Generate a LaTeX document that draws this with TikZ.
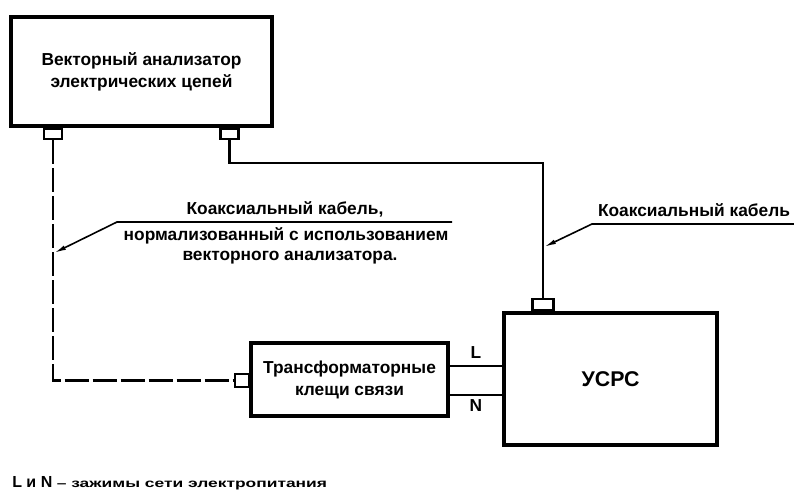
\documentclass[tikz,border=0pt]{standalone}
\usepackage{fontspec}
\setmainfont{Liberation Sans}
\usetikzlibrary{positioning,arrows.meta}

\tikzset{
  blok/.style={draw,line width=3pt,inner sep=0pt,align=center,font=\bfseries\fontsize{13}{16.5}\selectfont},
  port/.style={draw,line width=1.6pt,fill=white,inner sep=0pt},
  kabel/.style={line width=1.6pt},
  shtrih/.style={kabel,dash pattern=on 18pt off 3pt},
  vynoska/.style={line width=1.2pt,-{Latex[length=9pt,width=3.5pt]}},
  tekst/.style={font=\bfseries\fontsize{13}{14}\selectfont,inner sep=0pt,text height=9pt,text depth=2pt}
}

\begin{document}
\begin{tikzpicture}[x=0.75pt,y=-0.75pt]
    \useasboundingbox (0,0) rectangle (794,492);
    % blocks
    \node[blok,minimum width=195.75pt,minimum height=81.75pt] (vna) at (141.5,71.5) {Векторный анализатор\\электрических цепей};
    \node[blok,minimum width=148pt,minimum height=55pt] (klesh) at (349.5,379.5) {Трансформаторные\\клещи связи};
    \node[blok,minimum width=160pt,minimum height=99pt,font=\bfseries\fontsize{16}{18}\selectfont] (usrs) at (610.5,379) {УСРС};
    % connectors
    \node[port,minimum width=13.5pt,minimum height=7.5pt] (vnaA) at (53,134) {};
    \node[port,minimum width=13.5pt,minimum height=7.5pt] (vnaB) at (229.5,134) {};
    \node[port,minimum width=15.75pt,minimum height=8.25pt] (usrsP) at (543,304.5) {};
    \node[port,minimum width=10pt,minimum height=10pt] (kleshP) at (242,380.5) {};
    % cables
    \draw[shtrih] (vnaA.south) |- (kleshP.west);
    \draw[kabel] (vnaB.south) -- ++(0,23) -| (usrsP.north);
    \foreach \s/\t/\p in {10pt/L/above,-11.5pt/N/below}
      {\draw[kabel] ([yshift=\s]klesh.east) -- ([yshift=\s]klesh.east -| usrs.west)
         node[midway,\p=3pt,tekst] (\t) {\t};}
    % labels
    \coordinate (kR0) at (794,224);
    \coordinate (kR1) at (592,224);
    \coordinate (kR2) at (544,247);
    \draw[vynoska] (kR0) -- (kR1) -- (kR2);
    \node[tekst] (kabR) at (694,212) {Коаксиальный кабель};
    \coordinate (kL0) at (452,222);
    \coordinate (kL1) at (117,222);
    \coordinate (kL2) at (54,253);
    \draw[vynoska] (kL0) -- (kL1) -- (kL2);
    \node[tekst] (kabL1) at (285,210) {Коаксиальный кабель,};
    \node[tekst] (kabL2) at (286,236) {нормализованный с использованием};
    \node[tekst] (kabL3) at (290,256) {векторного анализатора.};
    \node[anchor=west,inner sep=0pt] (prim) at (12,483)
      {\bfseries\fontsize{12}{13}\selectfont L и N {\fontsize{9}{10}\selectfont\addfontfeatures{FakeStretch=1.45} -- зажимы сети электропитания}};
  \end{tikzpicture}
\end{document}
